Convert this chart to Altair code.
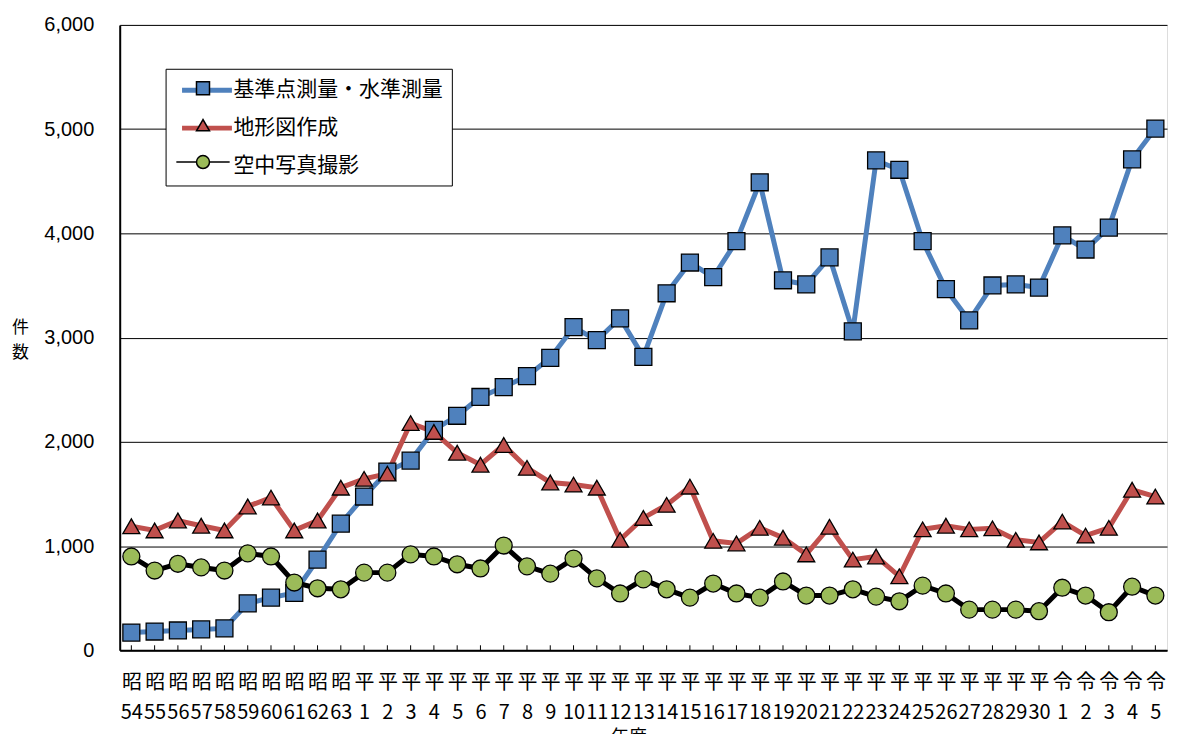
import altair as alt
import pandas as pd

years = ["昭54", "昭55", "昭56", "昭57", "昭58", "昭59", "昭60", "昭61", "昭62", "昭63",
         "平1", "平2", "平3", "平4", "平5", "平6", "平7", "平8", "平9", "平10",
         "平11", "平12", "平13", "平14", "平15", "平16", "平17", "平18", "平19", "平20",
         "平21", "平22", "平23", "平24", "平25", "平26", "平27", "平28", "平29", "平30",
         "令1", "令2", "令3", "令4", "令5"]

survey = [170, 180, 190, 200, 210, 450, 505, 550, 870, 1215,
          1475, 1715, 1820, 2115, 2250, 2430, 2525, 2630, 2805, 3100,
          2975, 3185, 2815, 3425, 3720, 3580, 3925, 4490, 3550, 3510,
          3770, 3060, 4700, 4610, 3925, 3465, 3165, 3500, 3510, 3480,
          3980, 3845, 4055, 4710, 5005]

mapping = [1190, 1150, 1245, 1195, 1150, 1380, 1465, 1150, 1245, 1560,
           1645, 1695, 2180, 2095, 1895, 1780, 1970, 1750, 1610, 1590,
           1560, 1060, 1270, 1395, 1570, 1050, 1025, 1175, 1080, 920,
           1185, 870, 900, 710, 1160, 1195, 1160, 1170, 1060, 1035,
           1235, 1100, 1175, 1540, 1475]

aerial = [900, 765, 830, 795, 765, 930, 900, 650, 595, 585,
          745, 745, 920, 900, 825, 785, 1005, 805, 735, 880,
          690, 545, 680, 585, 505, 640, 545, 505, 660, 525,
          525, 585, 515, 470, 620, 545, 390, 390, 390, 375,
          600, 525, 365, 610, 525]

names = ["基準点測量・水準測量", "地形図作成", "空中写真撮影"]
keys = ["A", "B", "C"]
line_colors = ["#4F81BD", "#C0504D", "#000000"]
fill_colors = ["#4F81BD", "#C0504D", "#9BBB59"]
shapes = ["square", "triangle-up", "circle"]
widths = [5, 5, 1.8]

# legend-only styling: the third legend line is drawn by the marker symbol itself (thin black)
legend_line_colors = ["#4F81BD", "#C0504D", "rgba(0,0,0,0)"]
legend_shapes = ["square", "triangle-up",
                 "M-4.1,0H-1M1,0H4.1M1,0A1,1,0,1,1,-1,0A1,1,0,1,1,1,0Z"]

rows = []
for s, (nm, k, vals) in enumerate(zip(names, keys, [survey, mapping, aerial])):
    for i, (yr, v) in enumerate(zip(years, vals)):
        rows.append({"year": yr, "series": nm, "key": k, "value": v, "order": s})
df = pd.DataFrame(rows)
ticks_df = pd.DataFrame({"year": years})

W, H = 1050, 627
JP = "Noto Sans CJK JP"

x_enc = alt.X(
    "year:N", sort=years,
    scale=alt.Scale(type="point", padding=0.5),
    axis=alt.Axis(
        title="年度", titleFont=JP, titleFontSize=18, titleFontWeight="normal",
        titleColor="black", titlePadding=6, titleX=510,
        labelAngle=0, labelFont=JP, labelFontSize=20, labelColor="black",
        labelExpr="[substring(datum.label, 0, 1), substring(datum.label, 1)]",
        labelLineHeight=30, labelPadding=32, labelOverlap=False, labelBaseline="middle",
        ticks=False, domainColor="black", domainWidth=2, grid=False,
    ),
)

y_enc = alt.Y(
    "value:Q",
    scale=alt.Scale(domain=[0, 6000], nice=False),
    axis=alt.Axis(
        values=[0, 1000, 2000, 3000, 4000, 5000, 6000], format=",.0f",
        labelFont="Liberation Sans", labelFontSize=20, labelColor="black", labelPadding=26,
        ticks=False, domainColor="black", domainWidth=2,
        grid=True, gridColor="black", gridWidth=1,
        title=["件", "数"], titleAngle=0, titleFont=JP, titleFontSize=17,
        titleFontWeight="normal", titleColor="black", titleX=-100, titleY=303,
        titleBaseline="middle", titleAlign="center", titleLineHeight=25,
    ),
)

lines = alt.Chart(df).mark_line().encode(
    x=x_enc,
    y=y_enc,
    color=alt.Color("series:N", scale=alt.Scale(domain=names, range=line_colors),
                    legend=None),
    strokeWidth=alt.StrokeWidth("series:N", scale=alt.Scale(domain=names, range=widths),
                                legend=None),
    order=alt.Order("order:Q"),
)

points = alt.Chart(df).mark_point(
    filled=True, size=289, stroke="black", strokeWidth=1.3, opacity=1
).encode(
    x=alt.X("year:N", sort=years),
    y="value:Q",
    fill=alt.Fill("key:N", scale=alt.Scale(domain=keys, range=fill_colors), legend=None),
    shape=alt.Shape("key:N", scale=alt.Scale(domain=keys, range=shapes), legend=None),
)

tickmarks = alt.Chart(ticks_df).mark_rule(color="black", strokeWidth=1).encode(
    x=alt.X("year:N", sort=years),
    y=alt.value(H),
    y2=alt.value(H - 5),
)

legend_lines = alt.Chart(df).transform_filter("false").mark_line().encode(
    x=alt.X("year:N", sort=years),
    y="value:Q",
    color=alt.Color(
        "series:N",
        scale=alt.Scale(domain=names, range=legend_line_colors),
        legend=alt.Legend(
            title=None, orient="none", legendX=46, legendY=44,
            symbolType="M-0.5,0H4.5", symbolSize=400, symbolStrokeWidth=5,
            symbolOpacity=1,
            labelFont=JP, labelFontSize=21, labelColor="black", labelLimit=500,
            labelOffset=34, rowPadding=15, padding=9,
            strokeColor="black", fillColor="white",
        ),
    ),
)

legend_points = alt.Chart(df).transform_filter("false").mark_point(
    filled=True, opacity=1, stroke="black", strokeWidth=1.5
).encode(
    x=alt.X("year:N", sort=years),
    y="value:Q",
    fill=alt.Fill(
        "key:N",
        scale=alt.Scale(domain=keys, range=fill_colors),
        legend=alt.Legend(
            title=None, orient="none", legendX=64, legendY=44,
            symbolSize=170, symbolStrokeColor="black", symbolStrokeWidth=1.5,
            symbolOpacity=1,
            labelFont=JP, labelFontSize=21, labelOpacity=0, labelLimit=500,
            rowPadding=15, padding=9,
        ),
    ),
    shape=alt.Shape("key:N", scale=alt.Scale(domain=keys, range=legend_shapes)),
)

chart = alt.layer(lines, tickmarks, points, legend_lines, legend_points).resolve_scale(
    color="independent", fill="independent", shape="independent",
).properties(
    width=W, height=H,
    autosize=alt.AutoSizeParams(type="none"),
    padding={"left": 112, "top": 16, "right": 2, "bottom": 83},
).configure_view(
    stroke="black", strokeWidth=2,
).configure(
    background="white",
)

chart.save("out.html", embed_options={"renderer": "svg", "actions": False})
